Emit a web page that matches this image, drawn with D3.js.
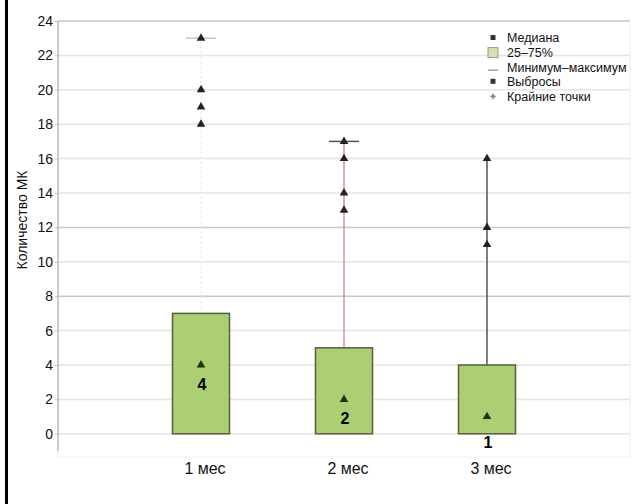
<!DOCTYPE html>
<html>
<head>
<meta charset="utf-8">
<script src="https://cdn.jsdelivr.net/npm/d3@7"></script>
<style>
  body { margin: 0; background: #fff; }
  text { font-family: "Liberation Sans", Arial, sans-serif; }
</style>
</head>
<body>
<div id="chart"></div>
<script>
// data
const categories = ["1 мес", "2 мес", "3 мес"];
const q1 = [0, 0, 0];
const q3 = [7, 5, 4];
const medians = [4, 2, 1];
const maxima = [23, 17, 16];
const outliers = [[18, 19, 20, 23], [13, 14, 16, 17], [11, 12, 16]];
const medianLabels = ["4", "2", "1"];
const yTicks = [0, 2, 4, 6, 8, 10, 12, 14, 16, 18, 20, 22, 24];
const legendLabels = ["Медиана", "25–75%", "Минимум–максимум", "Выбросы", "Крайние точки"];

// styles per category
const whiskerColor = ["#f0e6ea", "#c49a9f", "#555555"];
const whiskerDash = ["2,3", null, null];
const capColor = ["#c4c4c4", "#555555", null];
const labelDy = [19, 19, 26];

const width = 636, height = 504;
const margin = {left: 58, right: 6, top: 21};

const svg = d3.select("#chart").append("svg")
    .attr("width", width)
    .attr("height", height);

// left frame line
svg.append("line")
    .attr("x1", 6.5).attr("x2", 6.5)
    .attr("y1", 0).attr("y2", height)
    .attr("stroke", "#000").attr("stroke-width", 3);

const x = d3.scalePoint()
    .domain(categories)
    .range([margin.left, width - margin.right])
    .padding(1);

const y = d3.scaleLinear()
    .domain([-1, 24])
    .range([451, margin.top]);

// faint plot frame
svg.append("rect")
    .attr("x", margin.left).attr("y", margin.top)
    .attr("width", width - margin.right - margin.left)
    .attr("height", 457 - margin.top)
    .attr("fill", "none")
    .attr("stroke", "#f0f0f0");

// gridlines
svg.append("g")
    .selectAll("line")
    .data(yTicks)
    .enter()
    .append("line")
    .attr("x1", margin.left)
    .attr("x2", width - margin.right)
    .attr("y1", d => y(d))
    .attr("y2", d => y(d))
    .attr("stroke", d => (d === 24 || d === 12 || d === 8) ? "#c8c8c8" : "#e4e4e4")
    .attr("stroke-width", 1.5);

// y axis
const yAxis = svg.append("g")
    .attr("transform", `translate(${margin.left},0)`)
    .call(d3.axisLeft(y).tickValues(yTicks).tickSize(3).tickPadding(2));
yAxis.select(".domain").attr("stroke", "#bbb").attr("stroke-width", 1.5)
    .attr("d", `M0,${y(24)}V${y(-1)}`);
yAxis.selectAll(".tick line").attr("stroke", "#bbb");
yAxis.selectAll(".tick text")
    .attr("font-size", 14)
    .attr("fill", "#111");

svg.append("text")
    .attr("transform", "translate(27,220) rotate(-90)")
    .attr("text-anchor", "middle")
    .attr("font-size", 14)
    .attr("fill", "#111")
    .text("Количество МК");

// x labels
svg.append("g")
    .selectAll("text")
    .data(categories)
    .enter()
    .append("text")
    .attr("x", d => x(d) + 4)
    .attr("y", 474)
    .attr("text-anchor", "middle")
    .attr("font-size", 16)
    .attr("fill", "#111")
    .text(d => d);

const boxW = 57;

// whiskers
svg.append("g")
    .selectAll("line")
    .data(categories)
    .enter()
    .append("line")
    .attr("x1", d => x(d)).attr("x2", d => x(d))
    .attr("y1", (d, i) => y(q3[i]))
    .attr("y2", (d, i) => y(maxima[i]))
    .attr("stroke", (d, i) => whiskerColor[i])
    .attr("stroke-width", 1.5)
    .attr("stroke-dasharray", (d, i) => whiskerDash[i]);

// extreme caps
svg.append("g")
    .selectAll("line")
    .data(categories.filter((d, i) => capColor[i]))
    .enter()
    .append("line")
    .attr("x1", d => x(d) - 15).attr("x2", d => x(d) + 15)
    .attr("y1", d => y(maxima[categories.indexOf(d)]))
    .attr("y2", d => y(maxima[categories.indexOf(d)]))
    .attr("stroke", d => capColor[categories.indexOf(d)])
    .attr("stroke-width", 1.5);

// boxes
svg.append("g")
    .selectAll("rect")
    .data(categories)
    .enter()
    .append("rect")
    .attr("x", d => x(d) - boxW / 2)
    .attr("y", (d, i) => y(q3[i]))
    .attr("width", boxW)
    .attr("height", (d, i) => y(q1[i]) - y(q3[i]))
    .attr("fill", "#abcf72")
    .attr("stroke", "#56603e")
    .attr("stroke-width", 1.5);

const tri = d3.symbol().type(d3.symbolTriangle).size(32);

// outliers
categories.forEach((c, i) => {
    svg.append("g")
        .selectAll("path")
        .data(outliers[i])
        .enter()
        .append("path")
        .attr("transform", d => `translate(${x(c)},${y(d)})`)
        .attr("d", tri)
        .attr("fill", "#222");
});

// medians
svg.append("g")
    .selectAll("path")
    .data(categories)
    .enter()
    .append("path")
    .attr("transform", (d, i) => `translate(${x(d)},${y(medians[i])})`)
    .attr("d", tri)
    .attr("fill", "#1f3310");

svg.append("g")
    .selectAll("text")
    .data(categories)
    .enter()
    .append("text")
    .attr("x", d => x(d) + 1)
    .attr("y", (d, i) => y(medians[i]) + labelDy[i])
    .attr("dy", "0.35em")
    .attr("text-anchor", "middle")
    .attr("font-size", 16)
    .attr("font-weight", "bold")
    .attr("fill", "#000")
    .text((d, i) => medianLabels[i]);

// legend
const legend = svg.append("g").attr("transform", "translate(493,38)");
const rowH = 14.6;
legendLabels.forEach((t, i) => {
    const g = legend.append("g").attr("transform", `translate(0,${i * rowH})`);
    if (i === 0 || i === 3) {
        g.append("rect").attr("x", -2.5).attr("y", -3).attr("width", 5).attr("height", 5)
            .attr("fill", "#333");
    } else if (i === 1) {
        g.append("rect").attr("x", -5).attr("y", -5).attr("width", 10).attr("height", 10)
            .attr("fill", "#d3e0b0").attr("stroke", "#9aa080");
    } else if (i === 2) {
        g.append("line").attr("x1", -5).attr("x2", 5).attr("y1", 3).attr("y2", 3)
            .attr("stroke", "#b89aa8").attr("stroke-width", 1.5);
    } else {
        g.append("path").attr("d", d3.symbol().type(d3.symbolCross).size(16))
            .attr("fill", "#888");
    }
    g.append("text")
        .attr("x", 14)
        .attr("dy", "0.35em")
        .attr("font-size", 12.5)
        .attr("fill", "#111")
        .text(t);
});
</script>
</body>
</html>
